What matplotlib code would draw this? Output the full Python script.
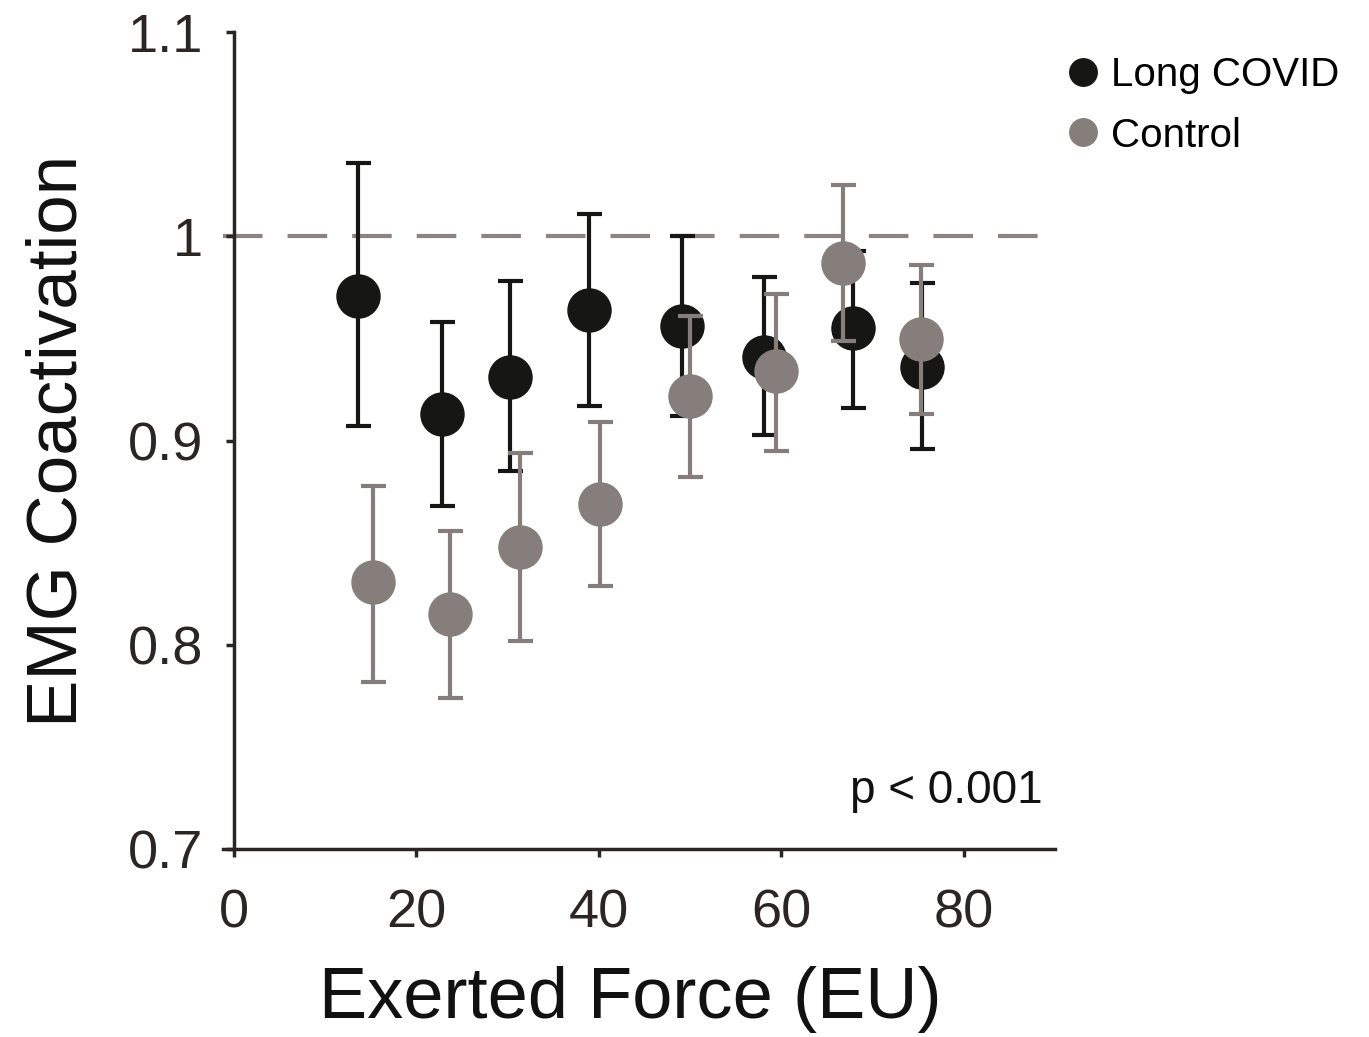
import numpy as np
import matplotlib
matplotlib.use("Agg")
import matplotlib.pyplot as plt

plt.rcParams["font.family"] = ["Liberation Sans", "DejaVu Sans"]

# Long COVID group
covid_x = [13.6, 22.8, 30.3, 38.9, 49.1, 58.1, 67.9, 75.4]
covid_y = [0.971, 0.913, 0.931, 0.964, 0.956, 0.941, 0.955, 0.936]
covid_lo = [0.907, 0.868, 0.885, 0.917, 0.912, 0.903, 0.916, 0.896]
covid_hi = [1.036, 0.958, 0.978, 1.011, 1.000, 0.980, 0.993, 0.977]

# Control group
ctrl_x = [15.2, 23.7, 31.4, 40.1, 50.0, 59.4, 66.7, 75.3]
ctrl_y = [0.831, 0.815, 0.848, 0.869, 0.922, 0.934, 0.987, 0.950]
ctrl_lo = [0.782, 0.774, 0.802, 0.829, 0.882, 0.895, 0.949, 0.913]
ctrl_hi = [0.878, 0.856, 0.894, 0.909, 0.961, 0.972, 1.025, 0.986]

black = "#161614"
gray = "#867e7a"
axis_col = "#2b2624"

fig = plt.figure(figsize=(13.69, 10.37), dpi=100)
ax = fig.add_axes([0.1629, 0.181, 0.6078, 0.788])

ax.axhline(1.0, color="#8c8482", lw=3, dashes=(9.5, 6), zorder=1)

def draw(x, y, lo, hi, col, label, z):
    y = np.array(y)
    err = [y - np.array(lo), np.array(hi) - y]
    ax.errorbar(x, y, yerr=err, fmt="none", ecolor=col, elinewidth=3,
                capsize=9, capthick=3, zorder=z)
    ax.plot(x, y, "o", ms=32, color=col, mec="none", label=label, zorder=z)

draw(covid_x, covid_y, covid_lo, covid_hi, black, "Long COVID", 3)
draw(ctrl_x, ctrl_y, ctrl_lo, ctrl_hi, gray, "Control", 4)

ax.set_xlim(-1.2, 90)
ax.set_ylim(0.7, 1.1)
ax.spines["left"].set_position(("data", 0))
ax.spines["top"].set_visible(False)
ax.spines["right"].set_visible(False)
for s in ("left", "bottom"):
    ax.spines[s].set_color(axis_col)
    ax.spines[s].set_linewidth(2.5)

ax.set_xticks([0, 20, 40, 60, 80])
ax.set_yticks([0.7, 0.8, 0.9, 1.0, 1.1])
ax.set_yticklabels(["0.7", "0.8", "0.9", "1", "1.1"])
ax.tick_params(axis="both", direction="out", length=6, width=2.5,
               color=axis_col, labelsize=39, labelcolor=axis_col)
ax.tick_params(axis="x", pad=22)
ax.tick_params(axis="y", pad=16)

ax.set_xlabel("Exerted Force (EU)", fontsize=52, color="#111111", labelpad=20)
ax.xaxis.label.set_x(0.49)
ax.set_ylabel("EMG Coactivation", fontsize=51, color="#111111")
ax.yaxis.set_label_coords(-0.158, 0.5)

ax.text(0.985, 0.045, "p < 0.001", transform=ax.transAxes, ha="right",
        va="bottom", fontsize=33, color="#111111")

leg = ax.legend(loc="upper left", bbox_to_anchor=(1.0, 0.99), frameon=False,
                fontsize=29, markerscale=0.65, handlelength=0.6,
                handletextpad=0.4, labelspacing=0.55, borderaxespad=0)

fig.savefig("out.png", dpi=100)
